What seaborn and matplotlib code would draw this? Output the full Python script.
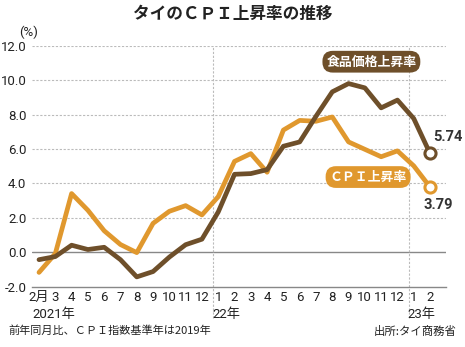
import matplotlib
matplotlib.use("Agg")
import matplotlib.pyplot as plt
import matplotlib.transforms as mtransforms
import seaborn as sns
import pandas as pd
import numpy as np

sns.set_theme(style="white")
plt.rcParams['font.family'] = ['Roboto', 'Noto Sans CJK JP', 'DejaVu Sans']

months = ["2月", "3", "4", "5", "6", "7", "8", "9", "10", "11", "12",
          "1", "2", "3", "4", "5", "6", "7", "8", "9", "10", "11", "12",
          "1", "2"]
years = ["2021年", "22年", "23年"]
year_start_idx = [0, 11, 23]
cpi = [-1.17, -0.08, 3.41, 2.44, 1.25, 0.45, -0.02, 1.68, 2.38, 2.71, 2.17,
       3.23, 5.28, 5.73, 4.65, 7.10, 7.66, 7.61, 7.86, 6.41, 5.98, 5.55, 5.89,
       5.02, 3.79]
food = [-0.43, -0.25, 0.41, 0.16, 0.29, -0.43, -1.43, -1.12, -0.28, 0.44, 0.76,
        2.34, 4.53, 4.57, 4.80, 6.16, 6.41, 7.90, 9.32, 9.80, 9.55, 8.39, 8.84,
        7.77, 5.74]

brown = "#6E4F2A"
orange = "#E0982E"

idx = np.arange(len(months))
df = pd.DataFrame({"i": np.concatenate([idx, idx]),
                   "v": cpi + food,
                   "s": ["CPI"] * len(idx) + ["food"] * len(idx)})

fig = plt.figure(figsize=(4.65, 3.47), dpi=100)
ax = fig.add_axes([32/465, 1-286.7/347, (446-32)/465, (286.7-45.7)/347])

ax.set_xlim(-0.43, 24.98)
ax.set_ylim(-2, 12)

# grid
for y in [2, 4, 6, 8, 10, 12]:
    ax.axhline(y, color="#BBBBBB", lw=0.8, ls=(0, (2, 1.5)), zorder=0)
ax.axhline(0, color="#888888", lw=1.0, zorder=0)

trans = mtransforms.blended_transform_factory(ax.transData, ax.transAxes)
for xv in [10.67, 22.68]:
    ax.plot([xv, xv], [-0.13, 1.0], transform=trans, color="#BBBBBB",
            lw=0.8, ls=(0, (2, 1.5)), clip_on=False, zorder=0)

sns.lineplot(data=df, x="i", y="v", hue="s", palette={"CPI": orange, "food": brown},
             hue_order=["CPI", "food"], lw=3.4, ax=ax, legend=False, zorder=3)

# end markers
ax.plot(idx[-1], food[-1], "o", ms=8, mfc="white", mec=brown, mew=2.2, zorder=5)
ax.plot(idx[-1], cpi[-1], "o", ms=8, mfc="white", mec=orange, mew=2.2, zorder=5)
num_fam = ['Roboto', 'DejaVu Sans']
ax.text(idx[-1] + 1.1, food[-1] + 0.95, f"{food[-1]:.2f}", ha="center", va="center",
        fontsize=10.5, fontweight="bold", color="#333333", clip_on=False, family=num_fam)
ax.text(idx[-1] + 0.5, cpi[-1] - 1.06, f"{cpi[-1]:.2f}", ha="center", va="center",
        fontsize=10.5, fontweight="bold", color="#333333", family=num_fam)

# series labels
lab_font = ['Noto Sans CJK JP']
ax.text(20.4, 11.07, "食品価格上昇率", ha="center", va="center", fontsize=9.3,
        fontweight="bold", color="white", family=lab_font,
        bbox=dict(boxstyle="round,pad=0.3,rounding_size=0.8", fc=brown, ec="none"))
ax.text(20.2, 4.37, "ＣＰＩ上昇率", ha="center", va="center", fontsize=9.3,
        fontweight="bold", color="white", family=lab_font,
        bbox=dict(boxstyle="round,pad=0.3,rounding_size=0.8", fc=orange, ec="none"))

# axes styling
for sp in ["top", "right", "left"]:
    ax.spines[sp].set_visible(False)
ax.spines["bottom"].set_color("#888888")
ax.spines["bottom"].set_linewidth(1.0)

tick_fam = ['Roboto', 'Noto Sans CJK JP']
ax.set_yticks([-2, 0, 2, 4, 6, 8, 10, 12])
ax.set_yticklabels([f"{v:.1f}" for v in [-2, 0, 2, 4, 6, 8, 10, 12]],
                   fontsize=9.5, color="#222222", family=tick_fam)
ax.set_xticks(idx)
ax.set_xticklabels(months, fontsize=9.5, color="#222222", family=tick_fam)
ax.tick_params(axis="both", length=0, pad=3)
ax.tick_params(axis="y", pad=4)
ax.set_xlabel("")
ax.set_ylabel("")

for lbl, i0 in zip(years, year_start_idx):
    ax.text(i0 - 0.38, -0.115, lbl, transform=trans, ha="left", va="center",
            fontsize=9.5, color="#222222", family=tick_fam)

fig.text(38/465, 1-32/347, "(%)", ha="right", va="center", fontsize=9.5,
         color="#222222", family=tick_fam)

fig.text(0.5, 1-14/347, "タイのＣＰＩ上昇率の推移", ha="center", va="center",
         fontsize=12, fontweight="bold", color="#222222", family=['Noto Sans CJK JP'])
fig.text(8/465, 1-331/347, "前年同月比、ＣＰＩ指数基準年は2019年", ha="left", va="center",
         fontsize=8, color="#222222", family=['Noto Sans CJK JP'])
fig.text(457/465, 1-331/347, "出所:タイ商務省", ha="right", va="center",
         fontsize=8.2, color="#222222", family=['Noto Sans CJK JP'])

fig.savefig("out.png", dpi=100)
